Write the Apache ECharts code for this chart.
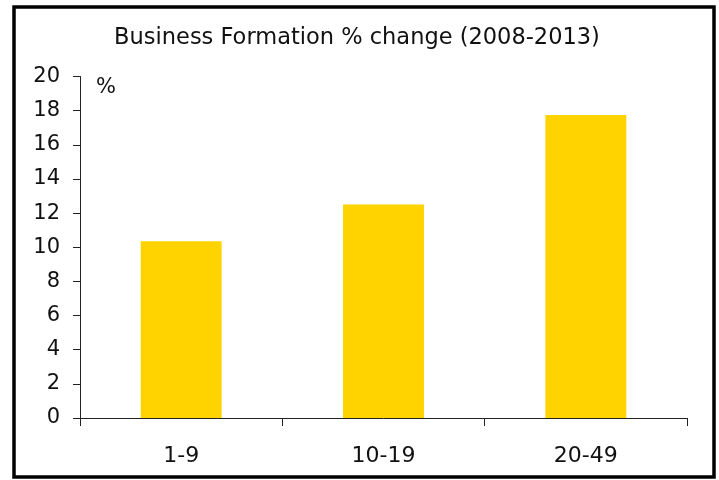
<!DOCTYPE html>
<html>
<head>
<meta charset="utf-8">
<script src="https://cdn.jsdelivr.net/npm/echarts@6/dist/echarts.min.js"></script>
<style>html,body{margin:0;padding:0;background:#fff}#c{width:719px;height:480px}</style>
</head>
<body>
<div id="c"></div>
<script>
var categories = ['1-9', '10-19', '20-49'];
var values = [10.35, 12.5, 17.75];
var yTicks = [0, 2, 4, 6, 8, 10, 12, 14, 16, 18, 20];
var titleText = 'Business Formation % change (2008-2013)';
var unitText = '%';

var chart = echarts.init(document.getElementById('c'), null, {renderer: 'canvas'});
var font = 'DejaVu Sans';
chart.setOption({
  animation: false,
  backgroundColor: '#fff',
  title: {
    text: titleText,
    left: 352, top: 22, textAlign: 'center',
    textStyle: {fontFamily: font, fontSize: 22.5, fontWeight: 'normal', color: '#111'}
  },
  graphic: [
    {type: 'rect', shape: {x: 14, y: 7, width: 700, height: 470}, style: {fill: 'none', stroke: '#000', lineWidth: 3.5}, z: 100},
    {type: 'text', left: 96, top: 77, style: {text: unitText, font: '21px "DejaVu Sans"', fill: '#111'}}
  ],
  grid: {left: 80, right: 32, top: 76.5, bottom: 62, containLabel: false},
  xAxis: {
    type: 'category', data: categories,
    axisLine: {lineStyle: {color: '#222', width: 1}},
    axisTick: {show: true, length: 8, lineStyle: {color: '#222'}},
    axisLabel: {fontFamily: font, fontSize: 22, color: '#111', margin: 27}
  },
  yAxis: {
    type: 'value', min: yTicks[0], max: yTicks[yTicks.length - 1], interval: 2,
    axisLine: {show: true, lineStyle: {color: '#222', width: 1}},
    axisTick: {show: true, length: 7, lineStyle: {color: '#222'}},
    splitLine: {show: false},
    axisLabel: {fontFamily: font, fontSize: 21, color: '#111', margin: 20}
  },
  series: [{
    type: 'bar', data: values, barCategoryGap: '60%',
    itemStyle: {color: '#FFD300'}
  }]
});
</script>
</body>
</html>
